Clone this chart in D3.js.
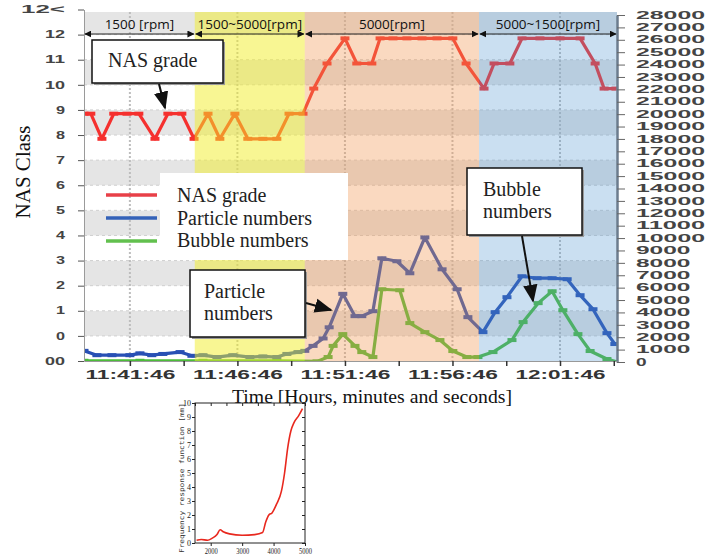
<!DOCTYPE html>
<html>
<head>
<meta charset="utf-8">
<script src="https://cdn.jsdelivr.net/npm/d3@7"></script>
<style>
  body { margin: 0; background: #fff; }
  svg { display: block; }
</style>
</head>
<body>
<div id="chart"></div>
<script>
// ---- données ----
const nasTimes = ["11:39:38","11:39:57","11:40:28","11:41:01","11:41:38","11:42:11","11:42:56","11:43:32","11:44:11","11:44:45",
                  "11:45:24","11:45:57","11:46:39","11:47:15","11:47:57","11:48:36","11:49:10","11:49:49","11:50:19","11:50:56",
                  "11:51:46","11:52:19","11:53:01","11:53:24","11:54:00","11:54:39","11:55:21","11:56:03","11:56:47","11:57:24",
                  "11:58:14","11:58:42","11:59:26","12:00:00","12:00:50","12:01:46","12:02:42","12:03:24","12:03:49","12:04:22"];
const nasGrades = [8.85,8.85,7.85,8.85,8.85,8.85,7.85,8.85,8.85,7.85,
                   8.85,7.85,8.85,7.85,7.85,7.85,8.85,8.85,9.85,10.85,
                   11.85,10.85,10.85,11.85,11.85,11.85,11.85,11.85,11.85,10.85,
                   9.85,10.85,10.85,11.85,11.85,11.85,11.85,10.85,9.85,9.85];

const particleTimes = ["11:39:38","11:40:14","11:40:56","11:41:46","11:42:14","11:42:47","11:43:18","11:44:06","11:44:39","11:45:10",
                       "11:45:49","11:46:33","11:47:21","11:47:57","11:48:36","11:49:04","11:49:35","11:49:54","11:50:17","11:50:45",
                       "11:51:02","11:51:40","11:52:14","11:52:33","11:53:04","11:53:29","11:54:11","11:54:47","11:55:29","11:56:17",
                       "11:56:59","11:57:29","11:58:11","11:58:45","11:59:18","12:00:00","12:00:42","12:01:24","12:02:06","12:02:42",
                       "12:03:18","12:03:57","12:04:19"];
const particleCounts = [900,550,550,550,700,550,650,800,500,550,
                        400,550,400,450,400,650,800,900,1300,1900,
                        2800,5500,3700,3700,4100,8370,8130,7160,10050,7480,
                        5870,3620,2410,4020,5230,6920,6760,6760,6680,5390,
                        4260,2330,1450];

const bubbleTimes = ["11:39:38","11:42:14","11:45:10","11:48:36","11:50:28","11:50:59","11:51:13","11:51:40","11:52:14","11:52:33",
                     "11:53:04","11:53:29","11:54:19","11:54:47","11:55:29","11:56:11","11:56:47","11:57:26","11:57:57","11:58:39",
                     "11:59:32","12:00:03","12:00:45","12:01:24","12:01:54","12:02:36","12:03:10","12:03:57","12:04:25"];
const bubbleCounts = [100,100,100,100,50,400,1300,2250,1300,800,
                      400,5870,5790,3140,2410,1770,885,400,400,800,
                      1770,3220,4750,5710,4180,2250,885,240,0];

const regionLabels = ["1500 [rpm]", "1500~5000[rpm]", "5000[rpm]", "5000~1500[rpm]"];
const regionBounds = ["11:39:38", "11:44:47", "11:49:54", "11:58:00", "12:04:25"];

const timeTicks = ["11:41:46", "11:46:46", "11:51:46", "11:56:46", "12:01:46"];
const timeMinorTicks = ["11:41:46","11:44:16","11:46:46","11:49:16","11:51:46","11:54:16","11:56:46","11:59:16","12:01:46","12:04:16"];
const classTicks  = [-1, 0, 1, 2, 3, 4, 5, 6, 7, 8, 9, 10, 11, 12, 13];
const classLabels = ["00","0","1","2","3","4","5","6","7","8","9","10","11","12","12<"];
const countTicks  = [0,1000,2000,3000,4000,5000,6000,7000,8000,9000,10000,11000,12000,13000,14000,
                     15000,16000,17000,18000,19000,20000,21000,22000,23000,24000,25000,26000,27000,28000];

const legendNames = ["NAS grade", "Particle numbers", "Bubble numbers"];

// petit graphique en bas (réponse en fréquence)
const insetRpm = [1550,1700,1900,2050,2200,2300,2400,2600,3000,3400,3650,3750,3850,3950,4100,4250,4350,4450,4550,4650,4800,4920];
const insetAmp = [0.2,0.25,0.2,0.35,0.6,0.95,0.8,0.65,0.55,0.6,0.75,1.5,2.0,2.15,2.8,3.7,5.0,6.8,8.0,8.6,9.1,9.6];
const insetXTicks = [2000, 3000, 4000, 5000];
const insetYTicks = [0,1,2,3,4,5,6,7,8,9,10];

// ---- dessin ----
const W = 727, H = 559;
const L = 84, R = 617, T = 12, B = 361;
const parse = d3.timeParse("%H:%M:%S");
const serif = "'Liberation Serif','Times New Roman',serif";
const sans  = "'Liberation Sans',Arial,sans-serif";

const svg = d3.select("#chart").append("svg")
    .attr("width", W).attr("height", H);

const x  = d3.scaleTime().domain([parse("11:39:38"), parse("12:04:25")]).range([L, R]);
const yL = d3.scaleLinear().domain([-1, 13]).range([B, 9.5]);
const yR = d3.scaleLinear().domain([0, 28000]).range([362, 15]);

const defs = svg.append("defs");
defs.append("clipPath").attr("id", "plot")
    .append("rect").attr("x", L).attr("y", T).attr("width", R - L).attr("height", B - T);
defs.append("marker").attr("id", "tip").attr("viewBox", "0 0 10 10")
    .attr("refX", 9).attr("refY", 5).attr("markerWidth", 7).attr("markerHeight", 7)
    .attr("orient", "auto-start-reverse")
    .append("path").attr("d", "M0,0 L10,5 L0,10 Z").attr("fill", "#111");
defs.append("marker").attr("id", "tipBig").attr("viewBox", "0 0 10 10")
    .attr("refX", 9).attr("refY", 5).attr("markerWidth", 9).attr("markerHeight", 9)
    .attr("orient", "auto")
    .append("path").attr("d", "M0,1 L10,5 L0,9 Z").attr("fill", "#111");

// bandes grises / blanches
const bandes = svg.append("g");
classTicks.slice(0, -1).forEach(k => {
    const top = Math.max(T, yL(k + 1));
    bandes.append("rect")
        .attr("x", L).attr("y", top)
        .attr("width", R - L).attr("height", yL(k) - top)
        .attr("fill", (k >= 0 && k % 2 === 0) ? "#e5e5e5" : "#ffffff");
});
classTicks.slice(1, -1).forEach(k => {
    bandes.append("line")
        .attr("x1", L).attr("x2", R).attr("y1", yL(k)).attr("y2", yL(k))
        .attr("stroke", "#cfcfcf").attr("stroke-dasharray", "3,3");
});
// grille verticale pointillée
timeTicks.forEach(t => {
    bandes.append("line")
        .attr("x1", x(parse(t))).attr("x2", x(parse(t))).attr("y1", T).attr("y2", B)
        .attr("stroke", "#bdbdbd").attr("stroke-width", 2).attr("stroke-dasharray", "2,2");
});

// séries
function dessinerSerie(times, values, yScale, couleur) {
    const pts = times.map((t, i) => ({ t: parse(t), v: values[i] }));
    const g = svg.append("g").attr("clip-path", "url(#plot)");
    g.append("path")
        .attr("d", d3.line().x(d => x(d.t)).y(d => yScale(d.v))(pts))
        .attr("fill", "none").attr("stroke", couleur).attr("stroke-width", 3.2)
        .attr("stroke-linejoin", "round");
    g.selectAll("rect").data(pts).join("rect")
        .attr("x", d => x(d.t) - 4.5).attr("y", d => yScale(d.v) - 2)
        .attr("width", 9).attr("height", 4).attr("fill", couleur);
}
dessinerSerie(bubbleTimes, bubbleCounts, yR, "#4cbc3a");
dessinerSerie(particleTimes, particleCounts, yR, "#2850b4");
dessinerSerie(nasTimes, nasGrades, yL, "#f5302e");

// zones de régime, posées par-dessus les courbes
const couleursZones = [null, "rgba(242,238,40,0.5)", "rgba(240,150,80,0.36)", "rgba(80,150,210,0.3)"];
regionLabels.forEach((lab, i) => {
    if (!couleursZones[i]) return;
    const x0 = x(parse(regionBounds[i])), x1 = x(parse(regionBounds[i + 1]));
    svg.append("rect").attr("x", x0).attr("y", T).attr("width", x1 - x0).attr("height", B - T)
        .attr("fill", couleursZones[i]);
});

// axe gauche
const axeG = svg.append("g").attr("transform", `translate(${L},0)`)
    .call(d3.axisLeft(yL).tickValues(classTicks).tickFormat((d, i) => classLabels[i])
        .tickSize(6).tickSizeOuter(0).tickPadding(13));
axeG.select(".domain").attr("stroke", "#9a9a9a");
axeG.selectAll(".tick line").attr("stroke", "#555");
axeG.selectAll("text")
    .attr("font-family", sans).attr("font-weight", "bold").attr("font-size", 10).attr("fill", "#444")
    .attr("lengthAdjust", "spacingAndGlyphs")
    .attr("textLength", (d, i) => {
        const s = classLabels[i];
        return s.replace("<", "").length * 11 - 2 + (s.includes("<") ? 24 : 0);
    });

// axe droit
const axeD = svg.append("g").attr("transform", `translate(${R},0)`)
    .call(d3.axisRight(yR).tickValues(countTicks).tickSize(8).tickSizeOuter(0).tickPadding(11)
        .tickFormat(d3.format("d")));
axeD.select(".domain").attr("stroke", "#6c7c8e").attr("stroke-width", 2.5);
axeD.selectAll(".tick line").attr("stroke", "#666");
axeD.selectAll("text")
    .attr("font-family", sans).attr("font-weight", "bold").attr("font-size", 10).attr("fill", "#444")
    .attr("lengthAdjust", "spacingAndGlyphs")
    .attr("textLength", d => String(d).length * 14.6 - 4);

// axe du temps
const axeX = svg.append("g").attr("transform", `translate(0,${B})`)
    .call(d3.axisBottom(x).tickValues(timeMinorTicks.map(parse)).tickSize(5).tickSizeOuter(0).tickFormat(""));
axeX.select(".domain").attr("stroke", "#999");
axeX.selectAll(".tick line").attr("stroke", "#333").attr("stroke-width", 1.5);
const axeXLab = svg.append("g").attr("transform", `translate(0,${B})`)
    .call(d3.axisBottom(x).tickValues(timeTicks.map(parse)).tickSize(0).tickPadding(9)
        .tickFormat(d3.timeFormat("%H:%M:%S")));
axeXLab.select(".domain").remove();
axeXLab.selectAll("text")
    .attr("font-family", sans).attr("font-weight", "bold").attr("font-size", 12).attr("fill", "#333")
    .attr("lengthAdjust", "spacingAndGlyphs").attr("textLength", 90);

// flèches de régime en haut
const haut = svg.append("g");
regionLabels.forEach((lab, i) => {
    const x0 = x(parse(regionBounds[i])), x1 = x(parse(regionBounds[i + 1]));
    haut.append("line").attr("x1", x0 + 1).attr("x2", x1 - 1).attr("y1", 34).attr("y2", 34)
        .attr("stroke", "#222").attr("stroke-width", 1)
        .attr("marker-start", "url(#tip)").attr("marker-end", "url(#tip)");
    haut.append("text").attr("x", (x0 + x1) / 2).attr("y", 29)
        .attr("text-anchor", "middle")
        .attr("font-family", "'Open Sans',sans-serif").attr("font-size", 13.5).attr("fill", "#111")
        .text(lab);
});

// légende
const couleursLegende = ["#e84048", "#3462b8", "#62c04e"];
const leg = svg.append("g");
legendNames.forEach((n, i) => {
    leg.append("line").attr("x1", 106).attr("x2", 157)
        .attr("y1", 195 + i * 23).attr("y2", 195 + i * 23)
        .attr("stroke", couleursLegende[i]).attr("stroke-width", 3.5);
});
leg.append("rect").attr("x", 160).attr("y", 173).attr("width", 188).attr("height", 87).attr("fill", "#fff");
legendNames.forEach((n, i) => {
    leg.append("text").attr("x", 177).attr("y", 202 + i * 22.5)
        .attr("font-family", serif).attr("font-size", 20).attr("fill", "#222").text(n);
});

// bulles d'annotation
function bulle(bx, by, bw, bh, lignes, tx, fleche) {
    const g = svg.append("g");
    g.append("rect").attr("x", bx + 2).attr("y", by + 2).attr("width", bw).attr("height", bh).attr("fill", "#9a9a9a");
    g.append("rect").attr("x", bx).attr("y", by).attr("width", bw).attr("height", bh)
        .attr("fill", "#fff").attr("stroke", "#111").attr("stroke-width", 1.5);
    lignes.forEach((l, i) => {
        g.append("text").attr("x", tx).attr("y", by + (lignes.length === 1 ? 27 : 28 + i * 22))
            .attr("font-family", serif).attr("font-size", 20).attr("fill", "#222").text(l);
    });
    g.append("line").attr("x1", fleche[0]).attr("y1", fleche[1]).attr("x2", fleche[2]).attr("y2", fleche[3])
        .attr("stroke", "#111").attr("stroke-width", 2).attr("marker-end", "url(#tipBig)");
}
bulle(92, 40, 131, 43, ["NAS grade"], 108, [159, 84, 165, 108]);
bulle(190, 270, 115, 67, ["Particle", "numbers"], 204, [306, 303, 331, 310]);
bulle(467, 168, 115, 67, ["Bubble", "numbers"], 483, [522, 236, 533, 301]);

// titres d'axes
svg.append("text").attr("transform", "translate(30,172) rotate(-90)")
    .attr("text-anchor", "middle").attr("font-family", serif).attr("font-size", 21).attr("fill", "#111")
    .text("NAS Class");
svg.append("text").attr("x", 372).attr("y", 403).attr("text-anchor", "middle")
    .attr("font-family", serif).attr("font-size", 19).attr("fill", "#111")
    .attr("textLength", 280).attr("lengthAdjust", "spacingAndGlyphs")
    .text("Time [Hours, minutes and seconds]");

// graphique encarté
const ix = d3.scaleLinear().domain([1500, 5000]).range([195, 305]);
const iy = d3.scaleLinear().domain([0, 10]).range([543, 403]);
const ins = svg.append("g");
ins.append("rect").attr("x", 195).attr("y", 403).attr("width", 110).attr("height", 140)
    .attr("fill", "#fff").attr("stroke", "#222").attr("stroke-width", 1);
const iax = ins.append("g").attr("transform", "translate(0,543)")
    .call(d3.axisBottom(ix).tickValues(insetXTicks).tickFormat(d3.format("d"))
        .tickSize(3).tickSizeOuter(0).tickPadding(2));
const iay = ins.append("g").attr("transform", "translate(195,0)")
    .call(d3.axisLeft(iy).tickValues(insetYTicks).tickSize(3).tickSizeOuter(0).tickPadding(1));
ins.append("g").attr("transform", "translate(0,403)")
    .call(d3.axisTop(ix).ticks(7).tickSize(-3).tickSizeOuter(0).tickFormat(""));
ins.append("g").attr("transform", "translate(305,0)")
    .call(d3.axisRight(iy).tickValues(insetYTicks).tickSize(-3).tickSizeOuter(0).tickFormat(""));
ins.selectAll(".domain").remove();
ins.selectAll(".tick line").attr("stroke", "#222");
iax.selectAll("text").attr("font-family", serif).attr("font-size", 8).attr("fill", "#222")
    .attr("textLength", 13).attr("lengthAdjust", "spacingAndGlyphs");
iay.selectAll("text").attr("font-family", serif).attr("font-size", 8).attr("fill", "#222");
ins.append("path")
    .attr("d", d3.line().curve(d3.curveMonotoneX).x((d, i) => ix(insetRpm[i])).y(d => iy(d))(insetAmp))
    .attr("fill", "none").attr("stroke", "#e8281e").attr("stroke-width", 1.6);
ins.append("text").attr("transform", "translate(184,478) rotate(-90)")
    .attr("text-anchor", "middle").attr("font-family", "'DejaVu Sans Mono',monospace")
    .attr("font-size", 6.5).attr("fill", "#333")
    .attr("textLength", 150).attr("lengthAdjust", "spacingAndGlyphs")
    .text("Frequency response function [mm]");
</script>
</body>
</html>
